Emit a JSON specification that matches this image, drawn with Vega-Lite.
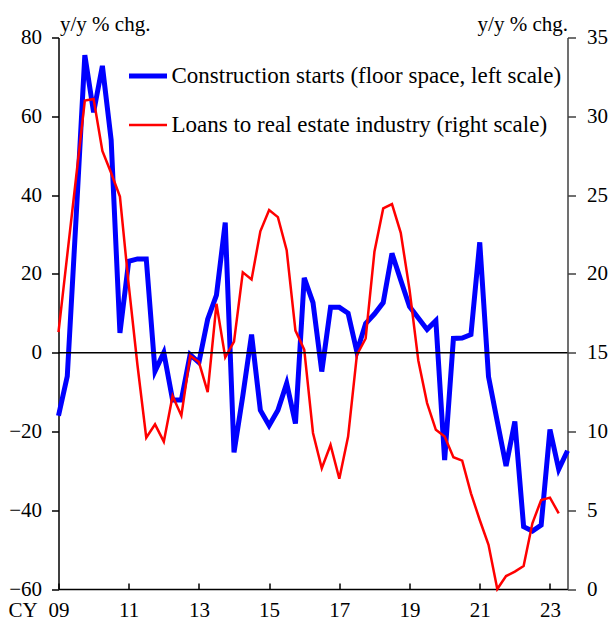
{
  "$schema": "https://vega.github.io/schema/vega-lite/v6.json",
  "width": 509,
  "height": 551.5,
  "autosize": {"type": "none"},
  "padding": {"left": 58.5, "top": 37.5, "right": 45.5, "bottom": 36},
  "background": "white",
  "config": {
    "view": {"stroke": null},
    "font": "Liberation Serif",
    "axis": {
      "grid": false,
      "labelFont": "Liberation Serif",
      "labelFontSize": 21,
      "labelColor": "black",
      "titleFont": "Liberation Serif",
      "titleFontSize": 21,
      "titleFontWeight": "normal",
      "titleColor": "black"
    },
    "legend": {
      "orient": "none",
      "legendX": 68,
      "legendY": 17,
      "padding": 0,
      "symbolType": "stroke",
      "symbolSize": 1444,
      "labelFont": "Liberation Serif",
      "labelFontSize": 23,
      "labelColor": "black",
      "labelOffset": 2,
      "labelLimit": 0,
      "rowPadding": 16
    }
  },
  "data": {
    "values": [
      {"t": 2009.00, "starts": -16, "loans": 16.3},
      {"t": 2009.25, "starts": -6, "loans": 21.2},
      {"t": 2009.50, "starts": 34, "loans": 26.1},
      {"t": 2009.75, "starts": 75.5, "loans": 31.0},
      {"t": 2010.00, "starts": 61, "loans": 31.1},
      {"t": 2010.25, "starts": 72.8, "loans": 27.8},
      {"t": 2010.50, "starts": 54, "loans": 26.4},
      {"t": 2010.75, "starts": 5, "loans": 24.9},
      {"t": 2011.00, "starts": 23.2, "loans": 19.3},
      {"t": 2011.25, "starts": 23.8, "loans": 14.2},
      {"t": 2011.50, "starts": 23.8, "loans": 9.6},
      {"t": 2011.75, "starts": -4.7, "loans": 10.45},
      {"t": 2012.00, "starts": 0, "loans": 9.35},
      {"t": 2012.25, "starts": -12, "loans": 12.25},
      {"t": 2012.50, "starts": -12, "loans": 11.0},
      {"t": 2012.75, "starts": -0.5, "loans": 14.8},
      {"t": 2013.00, "starts": -2.5, "loans": 14.4},
      {"t": 2013.25, "starts": 8.5, "loans": 12.5},
      {"t": 2013.50, "starts": 14.6, "loans": 18.1},
      {"t": 2013.75, "starts": 33, "loans": 14.7},
      {"t": 2014.00, "starts": -25.3, "loans": 15.7},
      {"t": 2014.25, "starts": -11, "loans": 20.1},
      {"t": 2014.50, "starts": 4.6, "loans": 19.65},
      {"t": 2014.75, "starts": -14.6, "loans": 22.7},
      {"t": 2015.00, "starts": -18.5, "loans": 24.05},
      {"t": 2015.25, "starts": -14.6, "loans": 23.6},
      {"t": 2015.50, "starts": -7.8, "loans": 21.5},
      {"t": 2015.75, "starts": -18, "loans": 16.4},
      {"t": 2016.00, "starts": 19, "loans": 15.2},
      {"t": 2016.25, "starts": 12.7, "loans": 9.9},
      {"t": 2016.50, "starts": -4.8, "loans": 7.66},
      {"t": 2016.75, "starts": 11.5, "loans": 9.14},
      {"t": 2017.00, "starts": 11.5, "loans": 7.0},
      {"t": 2017.25, "starts": 10, "loans": 9.67},
      {"t": 2017.50, "starts": 0.2, "loans": 14.85},
      {"t": 2017.75, "starts": 7.4, "loans": 15.9},
      {"t": 2018.00, "starts": 9.8, "loans": 21.4},
      {"t": 2018.25, "starts": 12.7, "loans": 24.15},
      {"t": 2018.50, "starts": 25.2, "loans": 24.43},
      {"t": 2018.75, "starts": 18.4, "loans": 22.6},
      {"t": 2019.00, "starts": 11.7, "loans": 19.0},
      {"t": 2019.25, "starts": 8.8, "loans": 14.5},
      {"t": 2019.50, "starts": 5.9, "loans": 11.8},
      {"t": 2019.75, "starts": 8.1, "loans": 10.1},
      {"t": 2020.00, "starts": -27.3, "loans": 9.67},
      {"t": 2020.25, "starts": 3.6, "loans": 8.36},
      {"t": 2020.50, "starts": 3.7, "loans": 8.15},
      {"t": 2020.75, "starts": 4.6, "loans": 6.07},
      {"t": 2021.00, "starts": 28, "loans": 4.38},
      {"t": 2021.25, "starts": -6.1, "loans": 2.8},
      {"t": 2021.50, "starts": -17.5, "loans": 0.0},
      {"t": 2021.75, "starts": -28.8, "loans": 0.82},
      {"t": 2022.00, "starts": -17.5, "loans": 1.1},
      {"t": 2022.25, "starts": -44.2, "loans": 1.46},
      {"t": 2022.50, "starts": -45.3, "loans": 4.17},
      {"t": 2022.75, "starts": -43.8, "loans": 5.65},
      {"t": 2023.00, "starts": -19.5, "loans": 5.8},
      {"t": 2023.25, "starts": -29.6, "loans": 4.8},
      {"t": 2023.50, "starts": -24.9}
    ]
  },
  "layer": [
    {
      "mark": {"type": "line"},
      "encoding": {
        "x": {
          "field": "t",
          "type": "quantitative",
          "scale": {"domain": [2009, 2023.5], "nice": false, "zero": false},
          "axis": {
            "orient": "bottom",
            "values": [2009, 2010, 2011, 2012, 2013, 2014, 2015, 2016, 2017, 2018, 2019, 2020, 2021, 2022, 2023],
            "labelExpr": "datum.value % 2 == 1 ? substring(toString(datum.value), 2, 4) : ''",
            "labelOverlap": false,
            "labelFlush": false,
            "tickSize": -6,
            "tickWidth": 1.5,
            "tickColor": "black",
            "domainColor": "black",
            "domainWidth": 1.5,
            "labelPadding": 16,
            "title": "CY",
            "titleAngle": 0,
            "titleAlign": "left",
            "titleBaseline": "alphabetic",
            "titleX": -50.5,
            "titleY": 27
          }
        },
        "y": {
          "field": "starts",
          "type": "quantitative",
          "scale": {"domain": [-60, 80], "nice": false, "zero": false},
          "axis": {
            "orient": "left",
            "values": [-60, -40, -20, 0, 20, 40, 60, 80],
            "tickSize": 7,
            "tickWidth": 1.5,
            "tickColor": "black",
            "domainColor": "black",
            "domainWidth": 1.5,
            "labelPadding": 10,
            "title": "y/y % chg.",
            "titleAngle": 0,
            "titleAlign": "left",
            "titleBaseline": "alphabetic",
            "titleX": 1,
            "titleY": -7
          }
        },
        "color": {
          "datum": "Construction starts (floor space, left scale)",
          "type": "nominal",
          "scale": {
            "domain": ["Construction starts (floor space, left scale)", "Loans to real estate industry (right scale)"],
            "range": ["#0000ff", "#ff0000"]
          },
          "legend": {"title": null}
        },
        "strokeWidth": {
          "datum": "Construction starts (floor space, left scale)",
          "type": "nominal",
          "scale": {
            "domain": ["Construction starts (floor space, left scale)", "Loans to real estate industry (right scale)"],
            "range": [5, 2.5]
          },
          "legend": {"title": null}
        }
      }
    },
    {
      "mark": {"type": "line"},
      "encoding": {
        "x": {"field": "t", "type": "quantitative"},
        "y": {
          "field": "loans",
          "type": "quantitative",
          "scale": {"domain": [0, 35], "nice": false, "zero": false},
          "axis": {
            "orient": "right",
            "values": [0, 5, 10, 15, 20, 25, 30, 35],
            "tickSize": 8,
            "tickWidth": 1.5,
            "tickColor": "#404040",
            "domainColor": "#404040",
            "domainWidth": 1.5,
            "labelPadding": 11,
            "title": "y/y % chg.",
            "titleAngle": 0,
            "titleAlign": "right",
            "titleBaseline": "alphabetic",
            "titleX": 0,
            "titleY": -7
          }
        },
        "color": {"datum": "Loans to real estate industry (right scale)", "type": "nominal"},
        "strokeWidth": {"datum": "Loans to real estate industry (right scale)", "type": "nominal"}
      }
    },
    {
      "data": {"values": [{"zero": 0}]},
      "mark": {"type": "rule", "color": "black", "strokeWidth": 1.5},
      "encoding": {
        "y": {"field": "zero", "type": "quantitative", "scale": {"domain": [-60, 80], "nice": false, "zero": false}, "axis": null}
      }
    }
  ],
  "resolve": {"scale": {"y": "independent"}}
}
